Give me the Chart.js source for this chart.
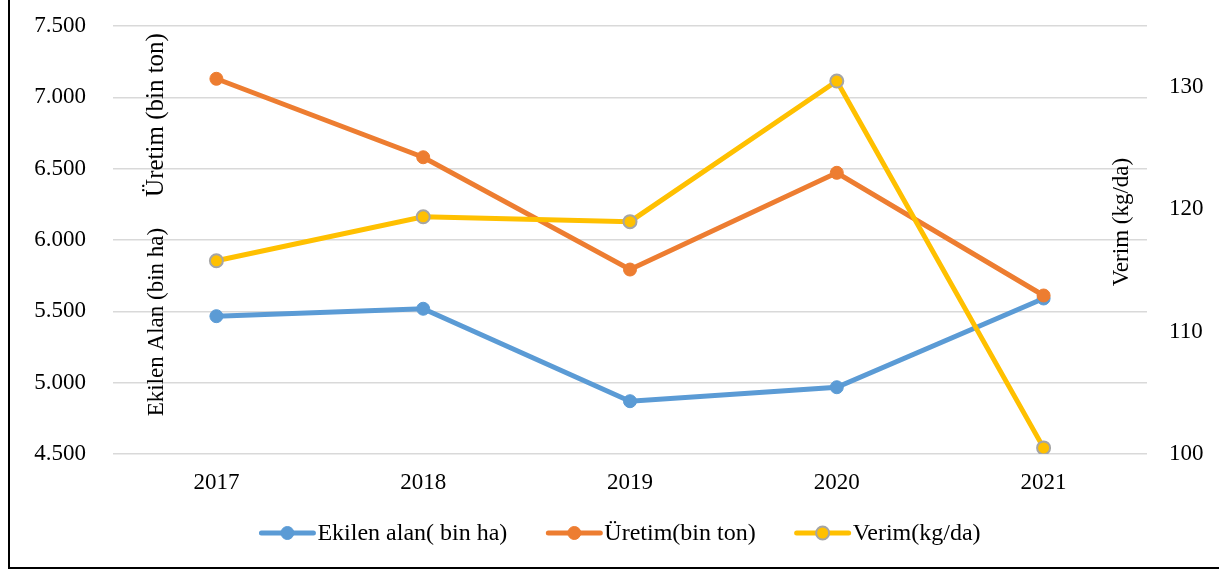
<!DOCTYPE html>
<html>
<head>
<meta charset="utf-8">
<script src="https://cdn.jsdelivr.net/npm/chart.js@4.4.1/dist/chart.umd.min.js"></script>
<style>
  html, body { margin: 0; padding: 0; background: #fff; }
  #grafik { display: block; }
</style>
</head>
<body>
<canvas id="grafik" width="1219" height="571"></canvas>
<script>
// Veriler
const yillar = ['2017', '2018', '2019', '2020', '2021'];
const ekilenAlan = [5466, 5518, 4870, 4968, 5590];
const uretim = [7130, 6580, 5793, 6471, 5611];
const verim = [115.8, 119.4, 119.0, 130.5, 100.5];

const seriAdlari = ['Ekilen alan( bin ha)', 'Üretim(bin ton)', 'Verim(kg/da)'];
const solEksenBasligi1 = 'Ekilen Alan (bin ha)';
const solEksenBasligi2 = 'Üretim (bin ton)';
const sagEksenBasligi = 'Verim (kg/da)';

const FONT = '"Liberation Serif", "Times New Roman", serif';

function binlik(v) {
    return String(Math.round(v)).replace(/\B(?=(\d{3})+(?!\d))/g, '.');
}

// Çerçeve, eksen başlıkları ve gösterge
const ekstraCizim = {
    id: 'ekstraCizim',
    afterDraw(chart) {
        const ctx = chart.ctx;
        ctx.save();
        // çerçeve
        ctx.strokeStyle = '#000';
        ctx.lineWidth = 2;
        ctx.strokeRect(9, -10, 1300, 578);

        // eksen başlıkları
        ctx.fillStyle = '#000';
        ctx.textAlign = 'center';
        ctx.textBaseline = 'middle';
        const dikYazi = (metin, x, y, boyut) => {
            ctx.save();
            ctx.translate(x, y);
            ctx.rotate(-Math.PI / 2);
            ctx.font = boyut + 'px ' + FONT;
            ctx.fillText(metin, 0, 0);
            ctx.restore();
        };
        dikYazi(solEksenBasligi1, 157, 322, 23);
        dikYazi(solEksenBasligi2, 156, 115, 25);
        dikYazi(sagEksenBasligi, 1122, 222, 23);

        // gösterge
        ctx.font = '24px ' + FONT;
        const cizgiGen = 56, bosluk = 2, araBosluk = 39, yG = 533;
        const genislikler = chart.data.datasets.map(d => ctx.measureText(d.label).width);
        let toplam = 0;
        genislikler.forEach((w, i) => { toplam += cizgiGen + bosluk + w + (i < genislikler.length - 1 ? araBosluk : 0); });
        let x = 620 - toplam / 2;
        chart.data.datasets.forEach((d, i) => {
            ctx.strokeStyle = d.borderColor;
            ctx.lineWidth = 5;
            ctx.lineCap = 'round';
            ctx.beginPath();
            ctx.moveTo(x + 2, yG);
            ctx.lineTo(x + cizgiGen - 2, yG);
            ctx.stroke();
            ctx.beginPath();
            ctx.arc(x + cizgiGen / 2, yG, 6.5, 0, Math.PI * 2);
            ctx.fillStyle = d.pointBackgroundColor;
            ctx.fill();
            ctx.lineWidth = d.pointBorderWidth;
            ctx.strokeStyle = d.pointBorderColor;
            ctx.stroke();
            ctx.fillStyle = '#000';
            ctx.textAlign = 'left';
            ctx.fillText(d.label, x + cizgiGen + bosluk, yG + 1);
            x += cizgiGen + bosluk + genislikler[i] + araBosluk;
        });
        ctx.restore();
    }
};

new Chart(document.getElementById('grafik'), {
    type: 'line',
    data: {
        labels: yillar,
        datasets: [
            {
                label: seriAdlari[0],
                data: ekilenAlan,
                yAxisID: 'y',
                borderColor: '#5B9BD5',
                backgroundColor: '#5B9BD5',
                pointBackgroundColor: '#5B9BD5',
                pointBorderColor: '#5B9BD5',
                pointBorderWidth: 1,
                pointRadius: 6.5,
                borderWidth: 5,
                order: 3,
            },
            {
                label: seriAdlari[1],
                data: uretim,
                yAxisID: 'y',
                borderColor: '#ED7D31',
                backgroundColor: '#ED7D31',
                pointBackgroundColor: '#ED7D31',
                pointBorderColor: '#ED7D31',
                pointBorderWidth: 1,
                pointRadius: 6.5,
                borderWidth: 5,
                order: 2,
            },
            {
                label: seriAdlari[2],
                data: verim,
                yAxisID: 'y1',
                borderColor: '#FFC000',
                backgroundColor: '#FFC000',
                pointBackgroundColor: '#FFC000',
                pointBorderColor: '#A5A5A5',
                pointBorderWidth: 2,
                pointRadius: 6.5,
                borderWidth: 5,
                order: 1,
            },
        ],
    },
    options: {
        responsive: false,
        animation: false,
        layout: { padding: { left: 0, right: 0, top: 26, bottom: 67 } },
        plugins: {
            legend: { display: false },
            tooltip: { enabled: false },
        },
        scales: {
            x: {
                offset: true,
                grid: { display: false, offset: true },
                border: { display: false },
                ticks: { color: '#000', font: { family: FONT, size: 23 }, padding: 7 },
                afterFit(a) { a.height = 50; },
            },
            y: {
                position: 'left',
                min: 4500,
                max: 7500,
                grid: { color: '#D9D9D9', lineWidth: 1.5, drawTicks: false },
                border: { display: false },
                ticks: {
                    stepSize: 500,
                    padding: 27,
                    color: '#000',
                    font: { family: FONT, size: 23 },
                    callback: v => binlik(v),
                },
                afterFit(a) { a.width = 113; a.paddingTop = 0; a.paddingBottom = 0; },
            },
            y1: {
                position: 'right',
                min: 100,
                max: 135,
                grid: { display: false, drawTicks: false },
                border: { display: false },
                ticks: {
                    stepSize: 10,
                    padding: 22,
                    color: '#000',
                    font: { family: FONT, size: 23 },
                },
                afterBuildTicks(a) { a.ticks = a.ticks.filter(t => t.value % 10 === 0); },
                afterFit(a) { a.width = 72; a.paddingTop = 0; a.paddingBottom = 0; },
            },
        },
    },
    plugins: [ekstraCizim],
});
</script>
</body>
</html>
